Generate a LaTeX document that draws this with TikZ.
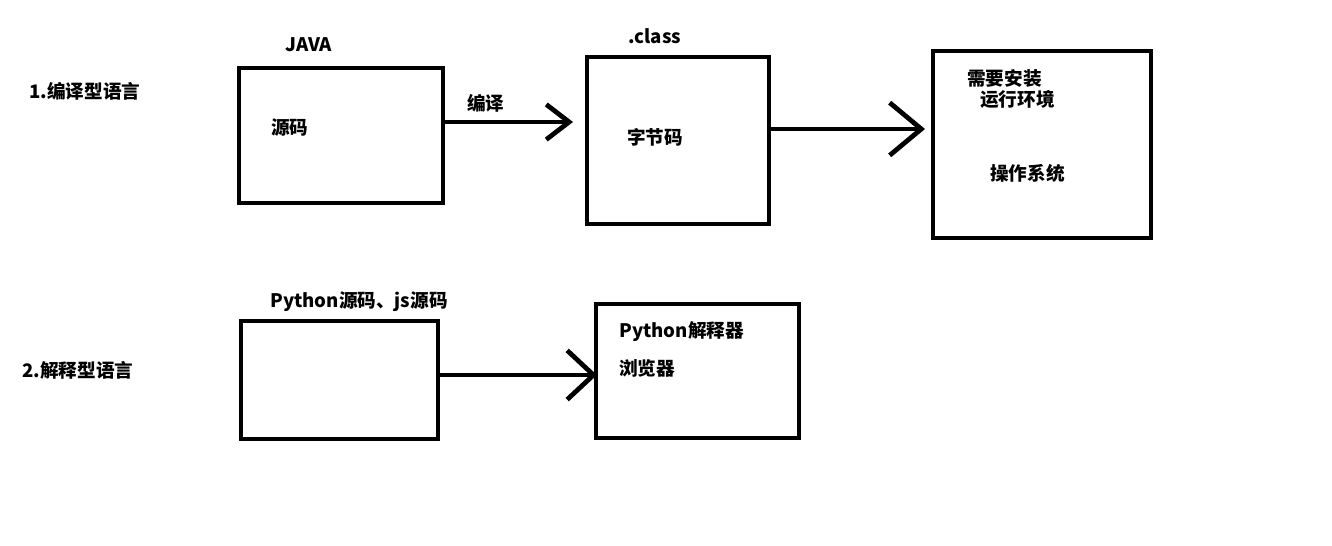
\documentclass[tikz,border=0pt]{standalone}
\usepackage{fontspec}
\newfontfamily\cjk{Noto Sans CJK SC}
\usetikzlibrary{arrows.meta,positioning}

\tikzset{
  box/.style={draw, line width=0.095cm, inner sep=0pt},
  lbl/.style={font=\cjk\bfseries\fontsize{10.6}{12}\selectfont, anchor=west, inner sep=0pt},
  arr/.style={line width=0.095cm}
}

\begin{document}
\begin{tikzpicture}[x=0.02cm, y=-0.02cm]
\useasboundingbox (0,0) rectangle (1332,545);
% compiled language
\node[lbl] (t1) at (29,91) {1.编译型语言};
\node[box, minimum width=4.08cm, minimum height=2.70cm] (A) at (341,135.5) {};
\node[box, minimum width=3.64cm, minimum height=3.34cm] (B) at (678,140.5) {};
\node[box, minimum width=4.36cm, minimum height=3.74cm] (C) at (1042,144.5) {};
\node[lbl] (java) at (285,45) {JAVA};
\node[lbl] (src) at (271,128) {源码};
\node[lbl] (comp) at (467,103) {编译};
\node[lbl] (cls) at (628,36) {.class};
\node[lbl] (bc) at (627,137) {字节码};
\node[lbl] (need) at (967,78) {需要安装};
\node[lbl] (env) at (980,99) {运行环境};
\node[lbl] (os) at (990,173) {操作系统};
\coordinate (e1) at (573,122);
\coordinate (e2) at (925,129);
\draw[arr, -{Straight Barb[length=13pt,width=20pt]}] (A.east |- e1) -- (e1);
\draw[arr, -{Straight Barb[length=18pt,width=30pt]}] (B.east |- e2) -- (e2);
% interpreted language
\node[lbl] (t2) at (22,370) {2.解释型语言};
\node[box, minimum width=3.94cm, minimum height=2.36cm] (D) at (339.5,380) {};
\node[box, minimum width=4.06cm, minimum height=2.68cm] (E) at (697.5,371) {};
\node[lbl] (pysrc) at (270,302) {Python源码、js源码};
\node[lbl] (pyint) at (619,332) {Python解释器};
\node[lbl] (brw) at (619,368) {浏览器};
\coordinate (e3) at (597,375);
\draw[arr, -{Straight Barb[length=15pt,width=28pt]}] (D.east |- e3) -- (e3);
\end{tikzpicture}
\end{document}
